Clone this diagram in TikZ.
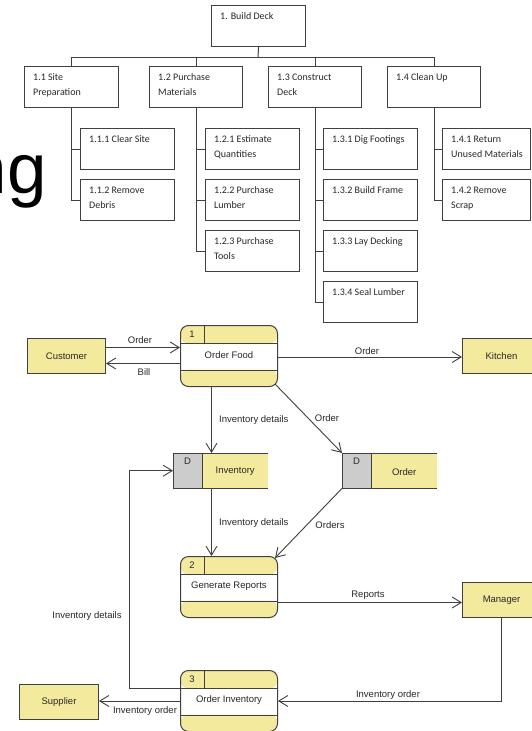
\documentclass[tikz,border=0pt]{standalone}
\usepackage{fontspec}
\setmainfont{Liberation Sans}
\newfontfamily\wbsfont{Carlito}
\usetikzlibrary{arrows.meta,calc}
\definecolor{dfdyellow}{RGB}{244,234,158}
\definecolor{dfdgray}{RGB}{204,204,204}
\definecolor{linec}{RGB}{64,64,64}
\definecolor{txtc}{RGB}{40,40,40}
\tikzset{
 wbsbox/.style={draw=linec, line width=1.1pt, minimum height=41pt, inner sep=0pt, anchor=north west},
 wbstext/.style={anchor=north west, inner sep=0pt, align=left, font=\wbsfont\fontsize{10}{15}\selectfont, text=txtc},
 wbsline/.style={draw=linec, line width=1pt},
 ext/.style={draw=linec, fill=dfdyellow, line width=1pt, minimum width=78pt, minimum height=35pt, anchor=north west, inner sep=0pt, font=\fontsize{9.5}{11}\selectfont, text=txtc},
 flow/.style={draw=linec, line width=0.9pt, -{Straight Barb[length=9pt,width=11pt]}},
 lbl/.style={font=\fontsize{9.5}{11}\selectfont, text=txtc, inner sep=0pt},
}
\newcommand\wbs[5]{%
 \node[wbsbox, minimum width=#4pt] (#1) at (#2,#3) {};
 \node[wbstext] (#1t) at ([shift={(9pt,-7.5pt)}]#1.north west) {#5};
}
\newcommand\dfdproc[5]{%
 \node[draw=linec, line width=1pt, rounded corners=8pt, minimum width=97pt, minimum height=61pt, inner sep=0pt, anchor=north west, fill=white,
  path picture={
   \fill[dfdyellow] (path picture bounding box.north west) rectangle ([yshift=-18pt]path picture bounding box.north east);
   \fill[dfdyellow] ([yshift=17pt]path picture bounding box.south west) rectangle (path picture bounding box.south east);
  }] (#1) at (#2,#3) {};
 \draw[linec, line width=1pt] ([yshift=-18pt]#1.north west) -- ([yshift=-18pt]#1.north east);
 \draw[linec, line width=1pt] ([yshift=17pt]#1.south west) -- ([yshift=17pt]#1.south east);
 \draw[linec, line width=1pt] ([xshift=24pt]#1.north west) -- ([xshift=24pt,yshift=-18pt]#1.north west);
 \node[lbl] (#1n) at ([shift={(12pt,-9pt)}]#1.north west) {#4};
 \node[lbl] (#1t) at ([yshift=-30.5pt]#1.north) {#5};
}
\newcommand\dfdstore[4]{%
 \node[minimum width=95pt, minimum height=35pt, inner sep=0pt, anchor=north west] (#1) at (#2,#3) {};
 \fill[dfdgray] (#1.north west) rectangle ([xshift=29pt]#1.south west);
 \fill[dfdyellow] ([xshift=29pt]#1.north west) rectangle (#1.south east);
 \draw[linec, line width=1pt] (#1.north east) -- (#1.north west) -- (#1.south west) -- (#1.south east);
 \draw[linec, line width=1pt] ([xshift=29pt]#1.north west) -- ([xshift=29pt]#1.south west);
 \node[lbl] (#1d) at ([shift={(14.5pt,-8pt)}]#1.north west) {D};
 \node[lbl] (#1t) at ([xshift=14.5pt,yshift=-1pt]#1.center) {#4};
}
\begin{document}
\begin{tikzpicture}[x=1pt,y=-1pt]
\useasboundingbox[fill=white] (0,0) rectangle (531,731);

% slide title remnant
\node[anchor=base east, inner sep=0pt, font=\fontsize{71}{71}\selectfont] (ng) at (47,193) {ng};

% WBS
\wbs{n1}{211}{5}{94}{1. Build Deck}
\wbs{n11}{24}{66}{94}{1.1 Site\\Preparation}
\wbs{n12}{149}{66}{93}{1.2 Purchase\\Materials}
\wbs{n13}{268}{66}{93}{1.3 Construct\\Deck}
\wbs{n14}{387}{66}{93}{1.4 Clean Up}
\wbs{n111}{80}{128}{94}{1.1.1 Clear Site}
\wbs{n112}{80}{179}{94}{1.1.2 Remove\\Debris}
\wbs{n121}{205}{128}{94}{1.2.1 Estimate\\Quantities}
\wbs{n122}{205}{179}{94}{1.2.2 Purchase\\Lumber}
\wbs{n123}{205}{230}{94}{1.2.3 Purchase\\Tools}
\wbs{n131}{323}{128}{94}{1.3.1 Dig Footings}
\wbs{n132}{323}{179}{94}{1.3.2 Build Frame}
\wbs{n133}{323}{230}{94}{1.3.3 Lay Decking}
\wbs{n134}{323}{281}{94}{1.3.4 Seal Lumber}
\wbs{n141}{442}{128}{88}{1.4.1 Return\\Unused Materials}
\wbs{n142}{442}{179}{88}{1.4.2 Remove\\Scrap}

\coordinate (bus) at (258,57);
\draw[wbsline] (n1.south) -- (bus);
\draw[wbsline] (n11.north) -- (n11.north |- bus) -- (n14.north |- bus) -- (n14.north);
\draw[wbsline] (n12.north) -- (n12.north |- bus);
\draw[wbsline] (n13.north) -- (n13.north |- bus);
\draw[wbsline] (n11.south) |- (n111.west);
\draw[wbsline] (n11.south) |- (n112.west);
\draw[wbsline] (n12.south) |- (n121.west);
\draw[wbsline] (n12.south) |- (n122.west);
\draw[wbsline] (n12.south) |- (n123.west);
\draw[wbsline] (n13.south) |- (n131.west);
\draw[wbsline] (n13.south) |- (n132.west);
\draw[wbsline] (n13.south) |- (n133.west);
\draw[wbsline] (n13.south) |- (n134.west);
\draw[wbsline] (n14.south) |- (n141.west);
\draw[wbsline] (n14.south) |- (n142.west);

% DFD
\node[ext] (cust) at (27,338) {Customer};
\node[ext] (kit) at (462,338) {Kitchen};
\node[ext] (mgr) at (462,582) {Manager};
\node[ext, minimum width=79pt] (sup) at (19,684) {Supplier};
\dfdproc{p1}{180}{325}{1}{Order Food}
\dfdproc{p2}{180}{556}{2}{Generate Reports}
\dfdproc{p3}{180}{670}{3}{Order Inventory}
\dfdstore{inv}{173}{453}{Inventory}
\dfdstore{ord}{342}{453}{Order}

\draw[flow] ([yshift=8.5pt]cust.east) -- ([yshift=8.5pt]cust.east -| p1.west);
\draw[flow] ([yshift=-7.5pt]p1.west) -- ([yshift=-7.5pt]p1.west -| cust.east);
\draw[flow] ([yshift=-1pt]p1.east) -- ([yshift=-1pt]p1.east -| kit.west);
\coordinate (p1a) at ([xshift=-17.5pt]p1.south);
\draw[flow] (p1a) -- (p1a |- inv.north);
\draw[flow] ([shift={(-3pt,3pt)}]p1.south east) -- (ord.north west);
\coordinate (p2a) at ([xshift=-17.5pt]p2.north);
\draw[flow] (p2a |- inv.south) -- (p2a);
\draw[flow] (ord.south west) -- ([shift={(-3pt,-2pt)}]p2.north east);
\coordinate (p2r) at ([yshift=-15.5pt]p2.east);
\draw[flow] (p2r) -- (p2r -| mgr.west);
\draw[flow] (mgr.south) |- (p3.east);
\coordinate (p3l) at ([yshift=13pt]p3.west);
\coordinate (bend) at ([xshift=-44pt]inv.west);
\draw[flow] (p3l) -| (bend) -- (inv.west);
\draw[flow] (p3.west) -- (p3.west -| sup.east);

\node[lbl] (l1) at (140,340) {Order};
\node[lbl] (l2) at (144,372) {Bill};
\node[lbl] (l3) at (367,351) {Order};
\node[lbl, anchor=west] (l4) at (219,420) {Inventory details};
\node[lbl] (l5) at (327,418) {Order};
\node[lbl, anchor=west] (l6) at (219,523) {Inventory details};
\node[lbl] (l7) at (330,525) {Orders};
\node[lbl] (l8) at (368,595) {Reports};
\node[lbl] (l9) at (87,616) {Inventory details};
\node[lbl] (l10) at (388,695) {Inventory order};
\node[lbl] (l11) at (145,711) {Inventory order};
\end{tikzpicture}
\end{document}
